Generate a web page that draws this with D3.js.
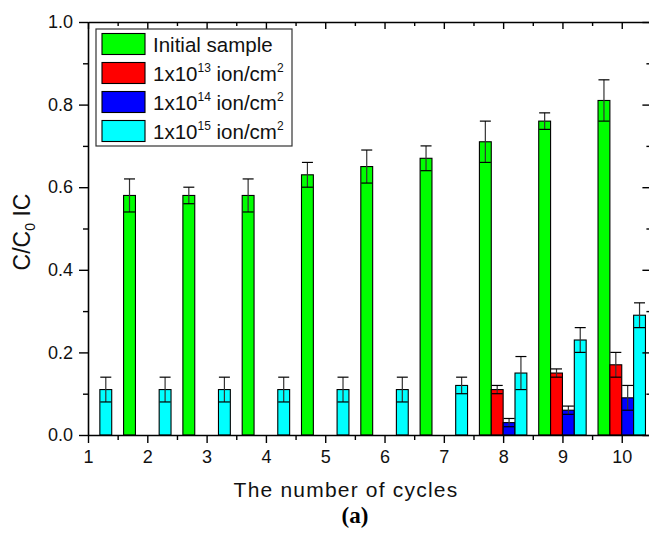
<!DOCTYPE html>
<html>
<head>
<meta charset="utf-8">
<script src="https://cdnjs.cloudflare.com/ajax/libs/d3/7.8.5/d3.min.js"></script>
<style>
body { margin: 0; background: #fff; }
svg { display: block; font-family: Arial, "Liberation Sans", sans-serif; }
</style>
</head>
<body>
<svg width="649" height="533"></svg>
<script>
// data (cycle 1..10, null = no bar)
var cycles = [1, 2, 3, 4, 5, 6, 7, 8, 9, 10];
var initialVals = [null, 0.58, 0.58, 0.58, 0.63, 0.65, 0.67, 0.71, 0.76, 0.81];
var initialErr  = [null, 0.04, 0.02, 0.04, 0.03, 0.04, 0.03, 0.05, 0.02, 0.05];
var dose13Vals = [null, null, null, null, null, null, null, 0.11, 0.15, 0.17];
var dose13Err  = [null, null, null, null, null, null, null, 0.01, 0.01, 0.03];
var dose14Vals = [null, null, null, null, null, null, null, 0.03, 0.06, 0.09];
var dose14Err  = [null, null, null, null, null, null, null, 0.01, 0.01, 0.03];
var dose15Vals = [0.11, 0.11, 0.11, 0.11, 0.11, 0.11, 0.12, 0.15, 0.23, 0.29];
var dose15Err  = [0.03, 0.03, 0.03, 0.03, 0.03, 0.03, 0.02, 0.04, 0.03, 0.03];
var seriesNames = ["Initial sample", "1x10|13| ion/cm|2", "1x10|14| ion/cm|2", "1x10|15| ion/cm|2"];
var xTicks = [1, 2, 3, 4, 5, 6, 7, 8, 9, 10];
var yTicks = [0, 0.2, 0.4, 0.6, 0.8, 1.0];

var colors = ["#00ff00", "#ff0000", "#0000ff", "#00ffff"];
var offsets = [-0.3, -0.1, 0.1, 0.3];
var barW = 0.2;

var series = [
  {vals: initialVals, err: initialErr},
  {vals: dose13Vals, err: dose13Err},
  {vals: dose14Vals, err: dose14Err},
  {vals: dose15Vals, err: dose15Err}
];

var svg = d3.select("svg");
var pLeft = 88, pRight = 651.4, pTop = 22, pBottom = 435;

var x = d3.scaleLinear().domain([1, 10.5]).range([pLeft, pRight]);
var y = d3.scaleLinear().domain([0, 1]).range([pBottom, pTop]);

var bars = [];
series.forEach(function(s, i) {
  cycles.forEach(function(c, j) {
    if (s.vals[j] != null) {
      bars.push({c: c, s: i, v: s.vals[j], e: s.err[j]});
    }
  });
});

var g = svg.append("g");

g.selectAll(".bar")
  .data(bars)
  .enter().append("rect")
  .attr("class", "bar")
  .attr("x", function(d) { return x(d.c + offsets[d.s] - barW / 2); })
  .attr("y", function(d) { return y(d.v); })
  .attr("width", function(d) { return x(d.c + offsets[d.s] + barW / 2) - x(d.c + offsets[d.s] - barW / 2); })
  .attr("height", function(d) { return pBottom - y(d.v); })
  .attr("fill", function(d) { return colors[d.s]; })
  .attr("stroke", "#000")
  .attr("stroke-width", 1.1);

// error bars
var eb = g.selectAll(".err").data(bars).enter().append("g").attr("class", "err");
eb.append("line")
  .attr("x1", function(d) { return x(d.c + offsets[d.s]); })
  .attr("x2", function(d) { return x(d.c + offsets[d.s]); })
  .attr("y1", function(d) { return y(d.v - d.e); })
  .attr("y2", function(d) { return y(d.v + d.e); })
  .attr("stroke", "#333").attr("stroke-width", 1.2);
[1, -1].forEach(function(sign) {
  eb.append("line")
    .attr("x1", function(d) { return x(d.c + offsets[d.s]) - 5.5; })
    .attr("x2", function(d) { return x(d.c + offsets[d.s]) + 5.5; })
    .attr("y1", function(d) { return y(d.v + sign * d.e); })
    .attr("y2", function(d) { return y(d.v + sign * d.e); })
    .attr("stroke", "#000").attr("stroke-width", 1.2);
});

// axes
var minorX = d3.range(1.5, 10.5, 1);
var minorY = [0.1, 0.3, 0.5, 0.7, 0.9];

function styleAxis(a) {
  a.select(".domain").attr("stroke-width", 1.6);
  a.selectAll(".tick line").attr("stroke-width", 1.4);
  a.selectAll("text").attr("font-size", 18).attr("fill", "#111");
}
function minorStyle(a) {
  a.select(".domain").remove();
  a.selectAll("line").attr("stroke-width", 1.4);
}

var xb = svg.append("g").attr("transform", "translate(0," + pBottom + ")")
  .call(d3.axisBottom(x).tickValues(xTicks).tickSize(8).tickSizeOuter(0).tickPadding(7).tickFormat(d3.format("d")));
styleAxis(xb);
svg.append("g").attr("transform", "translate(0," + pBottom + ")")
  .call(d3.axisBottom(x).tickValues(minorX).tickSize(5).tickFormat(""))
  .call(minorStyle);

var xt = svg.append("g").attr("transform", "translate(0," + pTop + ")")
  .call(d3.axisTop(x).tickValues(xTicks).tickSize(-7).tickSizeOuter(0).tickFormat(""));
styleAxis(xt);
svg.append("g").attr("transform", "translate(0," + pTop + ")")
  .call(d3.axisTop(x).tickValues(minorX).tickSize(-4).tickFormat(""))
  .call(minorStyle);

var yl = svg.append("g").attr("transform", "translate(" + pLeft + ",0)")
  .call(d3.axisLeft(y).tickValues(yTicks).tickSize(9).tickSizeOuter(0).tickPadding(6).tickFormat(d3.format(".1f")));
styleAxis(yl);
svg.append("g").attr("transform", "translate(" + pLeft + ",0)")
  .call(d3.axisLeft(y).tickValues(minorY).tickSize(5).tickFormat(""))
  .call(minorStyle);

var yr = svg.append("g").attr("transform", "translate(" + pRight + ",0)")
  .call(d3.axisRight(y).tickValues(yTicks).tickSize(-9).tickSizeOuter(0).tickFormat(""));
styleAxis(yr);
svg.append("g").attr("transform", "translate(" + pRight + ",0)")
  .call(d3.axisRight(y).tickValues(minorY).tickSize(-5).tickFormat(""))
  .call(minorStyle);

// axis titles
var yt = svg.append("text")
  .attr("transform", "translate(30,232) rotate(-90)")
  .attr("text-anchor", "middle")
  .attr("font-size", 23)
  .attr("fill", "#111");
yt.append("tspan").text("C/C");
yt.append("tspan").attr("font-size", 14).attr("dy", 5).text("0");
yt.append("tspan").attr("dy", -5).text(" IC");

svg.append("text")
  .attr("x", 346).attr("y", 497)
  .attr("text-anchor", "middle")
  .attr("font-size", 21)
  .attr("letter-spacing", 1.2)
  .attr("fill", "#111")
  .text("The number of cycles");

svg.append("text")
  .attr("x", 355).attr("y", 523)
  .attr("text-anchor", "middle")
  .attr("font-family", "'Liberation Serif', 'Times New Roman', serif")
  .attr("font-weight", "bold")
  .attr("font-size", 23)
  .text("(a)");

// legend
var lg = svg.append("g");
lg.append("rect")
  .attr("x", 96).attr("y", 29).attr("width", 196).attr("height", 117)
  .attr("fill", "#fff").attr("stroke", "#333").attr("stroke-width", 1.2);
seriesNames.forEach(function(name, i) {
  var ry = 33.5 + i * 29;
  lg.append("rect")
    .attr("x", 102).attr("y", ry).attr("width", 43).attr("height", 21)
    .attr("fill", colors[i]).attr("stroke", "#000").attr("stroke-width", 1.1);
  var t = lg.append("text")
    .attr("x", 153).attr("y", ry + 18)
    .attr("font-size", 20.5)
    .attr("fill", "#111");
  var parts = name.split("|");
  parts.forEach(function(p, k) {
    var ts = t.append("tspan").text(p);
    if (k % 2 === 1) ts.attr("font-size", 12).attr("dy", -9);
    else if (k > 0) ts.attr("dy", 9);
  });
});
</script>
</body>
</html>
